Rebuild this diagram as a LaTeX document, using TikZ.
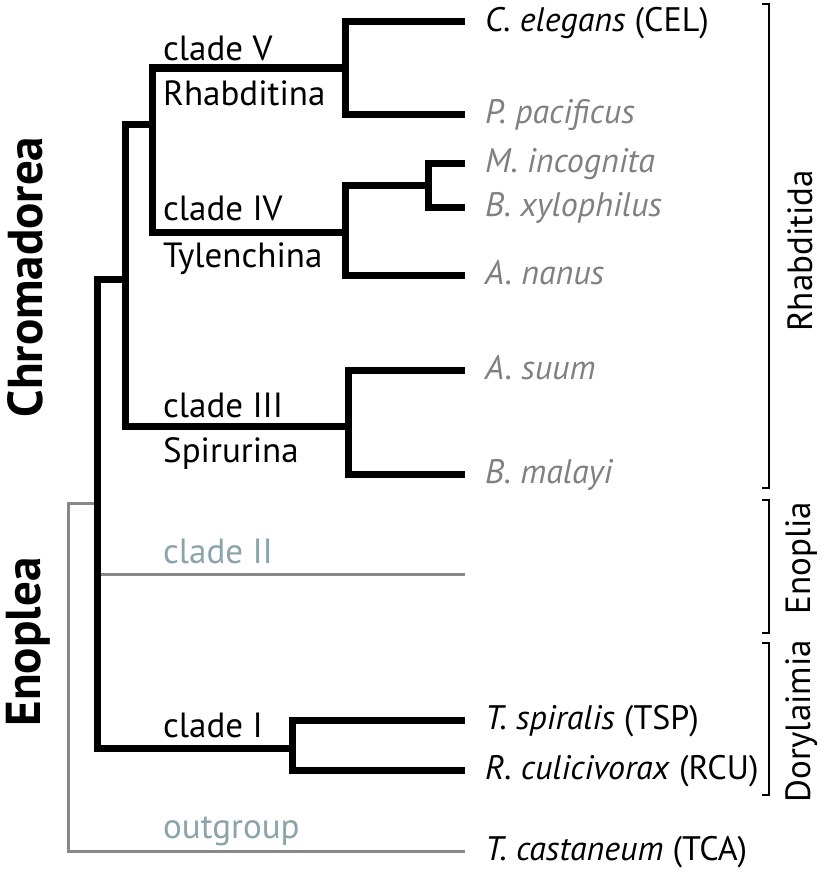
\documentclass[tikz,border=0pt]{standalone}
\usepackage{fontspec}
\setmainfont{PT Sans}
\definecolor{leafgrey}{HTML}{808080}
\definecolor{stemgrey}{HTML}{888888}
\definecolor{slate}{HTML}{8BA3AA}
\begin{document}
\begin{tikzpicture}[x=1pt,y=-1pt,
    branch/.style={line width=7pt},
    outbranch/.style={line width=3pt,stemgrey},
    bracket/.style={line width=2.5pt},
    every node/.append style={font=\fontsize{35}{42}\selectfont,inner sep=0pt},
    taxon/.style={anchor=west,inner xsep=20pt,text height=24pt,text depth=5pt,
      font=\fontsize{34}{41}\selectfont},
    grey/.style={text=leafgrey},
    clade/.style={anchor=base west},
    group/.style={rotate=90,font=\fontsize{49}{54}\selectfont\bfseries},
    order/.style={rotate=90}
  ]
  \useasboundingbox (0,0) rectangle (823,875);
  % taxa
  \node[taxon] (cel) at (465,22) {\textit{C. elegans} (CEL)};
  \node[taxon,grey] (ppa) at (465,114) {\textit{P. pacificus}};
  \node[taxon,grey] (min) at (465,163) {\textit{M. incognita}};
  \node[taxon,grey] (bxy) at (465,207) {\textit{B. xylophilus}};
  \node[taxon,grey] (ana) at (465,275) {\textit{A. nanus}};
  \node[taxon,grey] (asu) at (465,370) {\textit{A. suum}};
  \node[taxon,grey] (bma) at (465,474) {\textit{B. malayi}};
  \coordinate (tII) at (465,574);
  \node[taxon] (tsp) at (465,720) {\textit{T. spiralis} (TSP)};
  \node[taxon] (rcu) at (465,770) {\textit{R. culicivorax} (RCU)};
  \node[taxon] (tca) at (465,851) {\textit{T. castaneum} (TCA)};
  % internal nodes
  \coordinate (root) at (68,503);
  \coordinate (ingrp) at (97,503);
  \coordinate (chro) at (125,279);
  \coordinate (cVIV) at (152,124);
  \coordinate (cV) at (345,68);
  \coordinate (cIV) at (345,232);
  \coordinate (cMB) at (428,185);
  \coordinate (cIII) at (348,426);
  \coordinate (cI) at (292,748);
  % branches
  \draw[outbranch] (ingrp) -- (root) |- (tca.west);
  \draw[outbranch] (ingrp) |- (tII);
  \draw[branch] (ingrp) |- (chro) (ingrp) |- (cI);
  \draw[branch] (chro) |- (cVIV) (chro) |- (cIII);
  \draw[branch] (cVIV) |- (cV) (cVIV) |- (cIV);
  \draw[branch] (cV) |- (cel.west) (cV) |- (ppa.west);
  \draw[branch] (cIV) |- (cMB) (cIV) |- (ana.west);
  \draw[branch] (cMB) |- (min.west) (cMB) |- (bxy.west);
  \draw[branch] (cIII) |- (asu.west) (cIII) |- (bma.west);
  \draw[branch] (cI) |- (tsp.west) (cI) |- (rcu.west);
  % clade labels
  \node[clade] (lV) at (163,60) {clade V};
  \node[clade] (lRha) at (163,105) {Rhabditina};
  \node[clade] (lIV) at (163,220) {clade IV};
  \node[clade] (lTyl) at (163,267) {Tylenchina};
  \node[clade] (lIII) at (163,417) {clade III};
  \node[clade] (lSpi) at (163,462) {Spirurina};
  \node[clade,text=slate] (lII) at (163,563) {clade II};
  \node[clade] (lI) at (163,737) {clade I};
  \node[clade,text=slate] (lout) at (163,838) {outgroup};
  % classes
  \node[group] (chr) at (25,277) {Chromadorea};
  \node[group] (eno) at (28,642) {Enoplea};
  % orders
  \draw[bracket] (762,4) -| (769,488) -- (762,488);
  \draw[bracket] (762,500) -| (769,633) -- (762,633);
  \draw[bracket] (762,643) -| (769,795) -- (762,795);
  \node[order] (rha) at (800,251) {Rhabditida};
  \node[order] (enp) at (802,558) {Enoplia};
  \node[order] (dor) at (802,721) {Dorylaimia};
\end{tikzpicture}
\end{document}
